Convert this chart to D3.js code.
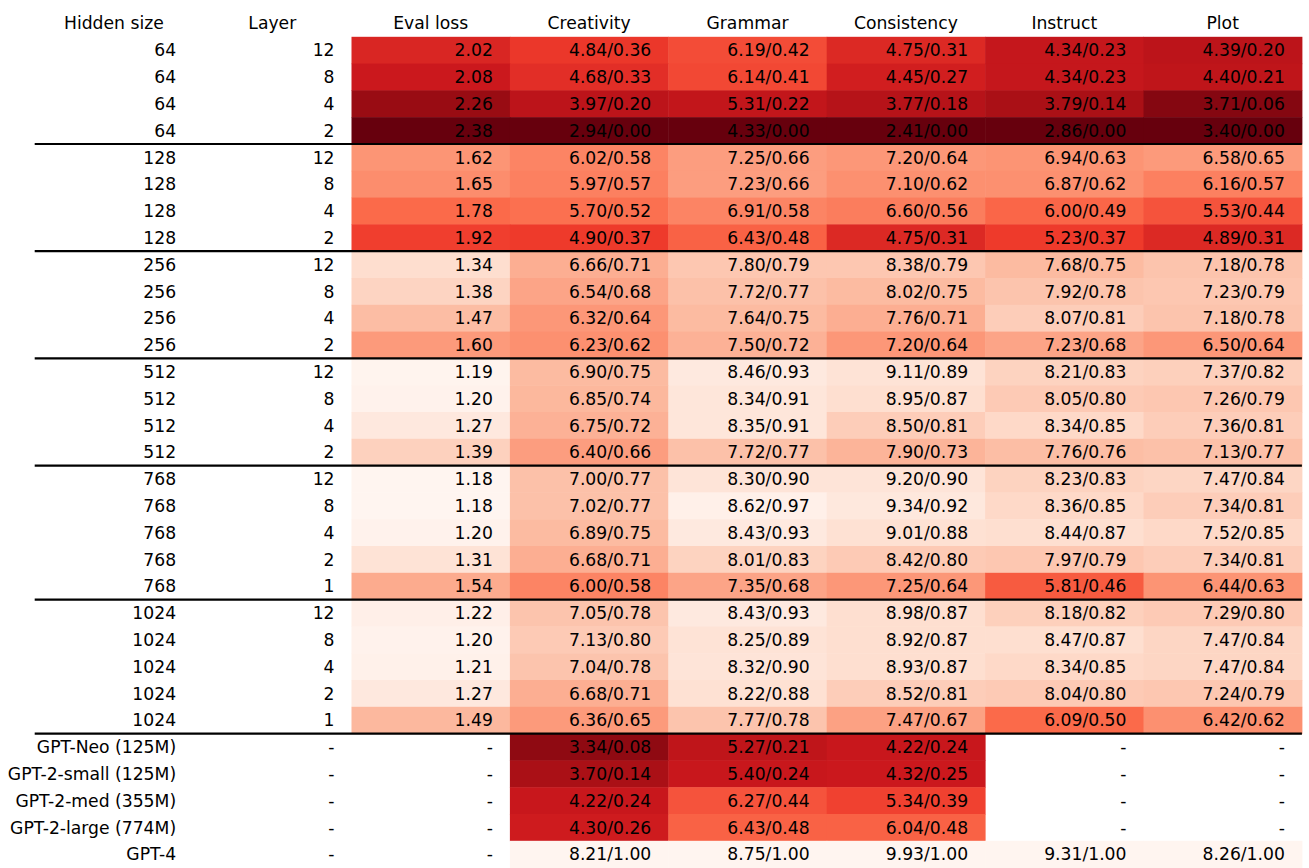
<!DOCTYPE html>
<html>
<head>
<meta charset="utf-8">
<script src="https://cdn.jsdelivr.net/npm/d3@7"></script>
<style>
  body { margin: 0; background: #fff; }
  text { font-family: "DejaVu Sans", sans-serif; font-size: 17.2px; fill: #000; }
</style>
</head>
<body>
<div id="chart"></div>
<script>
// Table data, one array per column
var columns = ["Hidden size", "Layer", "Eval loss", "Creativity", "Grammar", "Consistency", "Instruct", "Plot"];

var hiddenSize = ["64", "64", "64", "64", "128", "128", "128", "128", "256", "256", "256", "256",
    "512", "512", "512", "512", "768", "768", "768", "768", "768", "1024", "1024", "1024", "1024", "1024",
    "GPT-Neo (125M)", "GPT-2-small (125M)", "GPT-2-med (355M)", "GPT-2-large (774M)", "GPT-4"];
var layer = ["12", "8", "4", "2", "12", "8", "4", "2", "12", "8", "4", "2", "12", "8", "4", "2",
    "12", "8", "4", "2", "1", "12", "8", "4", "2", "1", "-", "-", "-", "-", "-"];

var evalLoss = [2.02, 2.08, 2.26, 2.38, 1.62, 1.65, 1.78, 1.92, 1.34, 1.38, 1.47, 1.60,
    1.19, 1.20, 1.27, 1.39, 1.18, 1.18, 1.20, 1.31, 1.54, 1.22, 1.20, 1.21, 1.27, 1.49,
    null, null, null, null, null];

var creativity = [4.84, 4.68, 3.97, 2.94, 6.02, 5.97, 5.70, 4.90, 6.66, 6.54, 6.32, 6.23,
    6.90, 6.85, 6.75, 6.40, 7.00, 7.02, 6.89, 6.68, 6.00, 7.05, 7.13, 7.04, 6.68, 6.36,
    3.34, 3.70, 4.22, 4.30, 8.21];
var creativityNorm = [0.36, 0.33, 0.20, 0.00, 0.58, 0.57, 0.52, 0.37, 0.71, 0.68, 0.64, 0.62,
    0.75, 0.74, 0.72, 0.66, 0.77, 0.77, 0.75, 0.71, 0.58, 0.78, 0.80, 0.78, 0.71, 0.65,
    0.08, 0.14, 0.24, 0.26, 1.00];

var grammar = [6.19, 6.14, 5.31, 4.33, 7.25, 7.23, 6.91, 6.43, 7.80, 7.72, 7.64, 7.50,
    8.46, 8.34, 8.35, 7.72, 8.30, 8.62, 8.43, 8.01, 7.35, 8.43, 8.25, 8.32, 8.22, 7.77,
    5.27, 5.40, 6.27, 6.43, 8.75];
var grammarNorm = [0.42, 0.41, 0.22, 0.00, 0.66, 0.66, 0.58, 0.48, 0.79, 0.77, 0.75, 0.72,
    0.93, 0.91, 0.91, 0.77, 0.90, 0.97, 0.93, 0.83, 0.68, 0.93, 0.89, 0.90, 0.88, 0.78,
    0.21, 0.24, 0.44, 0.48, 1.00];

var consistency = [4.75, 4.45, 3.77, 2.41, 7.20, 7.10, 6.60, 4.75, 8.38, 8.02, 7.76, 7.20,
    9.11, 8.95, 8.50, 7.90, 9.20, 9.34, 9.01, 8.42, 7.25, 8.98, 8.92, 8.93, 8.52, 7.47,
    4.22, 4.32, 5.34, 6.04, 9.93];
var consistencyNorm = [0.31, 0.27, 0.18, 0.00, 0.64, 0.62, 0.56, 0.31, 0.79, 0.75, 0.71, 0.64,
    0.89, 0.87, 0.81, 0.73, 0.90, 0.92, 0.88, 0.80, 0.64, 0.87, 0.87, 0.87, 0.81, 0.67,
    0.24, 0.25, 0.39, 0.48, 1.00];

var instruct = [4.34, 4.34, 3.79, 2.86, 6.94, 6.87, 6.00, 5.23, 7.68, 7.92, 8.07, 7.23,
    8.21, 8.05, 8.34, 7.76, 8.23, 8.36, 8.44, 7.97, 5.81, 8.18, 8.47, 8.34, 8.04, 6.09,
    null, null, null, null, 9.31];
var instructNorm = [0.23, 0.23, 0.14, 0.00, 0.63, 0.62, 0.49, 0.37, 0.75, 0.78, 0.81, 0.68,
    0.83, 0.80, 0.85, 0.76, 0.83, 0.85, 0.87, 0.79, 0.46, 0.82, 0.87, 0.85, 0.80, 0.50,
    null, null, null, null, 1.00];

var plot = [4.39, 4.40, 3.71, 3.40, 6.58, 6.16, 5.53, 4.89, 7.18, 7.23, 7.18, 6.50,
    7.37, 7.26, 7.36, 7.13, 7.47, 7.34, 7.52, 7.34, 6.44, 7.29, 7.47, 7.47, 7.24, 6.42,
    null, null, null, null, 8.26];
var plotNorm = [0.20, 0.21, 0.06, 0.00, 0.65, 0.57, 0.44, 0.31, 0.78, 0.79, 0.78, 0.64,
    0.82, 0.79, 0.81, 0.77, 0.84, 0.81, 0.85, 0.81, 0.63, 0.80, 0.84, 0.84, 0.79, 0.62,
    null, null, null, null, 1.00];

// rows after which a group separator is drawn
var groupEnds = [3, 7, 11, 15, 20, 25];

var w = 1309;
var h = 868;

var svg = d3.select("#chart")
    .append("svg")
    .attr("width", w)
    .attr("height", h);

var x = d3.scaleBand()
    .domain(columns)
    .range([34.7, 1301.9]);

var y = d3.scaleBand()
    .domain(d3.range(hiddenSize.length))
    .range([36.8, 36.8 + 26.8 * hiddenSize.length]);

// matplotlib-style "Reds" (linear between the 9 brewer stops)
var redsStops = ["#fff5f0", "#fee0d2", "#fcbba1", "#fc9272", "#fb6a4a", "#ef3b2c", "#cb181d", "#a50f15", "#67000d"];
var reds = d3.scaleLinear()
    .domain(d3.range(9).map(function (i) { return i / 8; }))
    .range(redsStops)
    .interpolate(d3.interpolateRgb)
    .clamp(true);

var lossExtent = d3.extent(evalLoss.filter(function (v) { return v != null; }));
var lossScale = d3.scaleLinear().domain(lossExtent).range([0, 1]);

// Build cell list
var scoreCols = [
    { name: "Creativity", vals: creativity, norm: creativityNorm },
    { name: "Grammar", vals: grammar, norm: grammarNorm },
    { name: "Consistency", vals: consistency, norm: consistencyNorm },
    { name: "Instruct", vals: instruct, norm: instructNorm },
    { name: "Plot", vals: plot, norm: plotNorm }
];

var cells = [];
hiddenSize.forEach(function (hs, i) {
    cells.push({ col: "Hidden size", row: i, label: hs, fill: null });
    cells.push({ col: "Layer", row: i, label: layer[i], fill: null });
    var l = evalLoss[i];
    cells.push({
        col: "Eval loss", row: i,
        label: l == null ? "-" : l.toFixed(2),
        fill: l == null ? null : reds(lossScale(l))
    });
    scoreCols.forEach(function (c) {
        var v = c.vals[i];
        cells.push({
            col: c.name, row: i,
            label: v == null ? "-" : v.toFixed(2) + "/" + c.norm[i].toFixed(2),
            fill: v == null ? null : reds(1 - c.norm[i])
        });
    });
});

// Background cells
svg.append("g")
    .selectAll("rect")
    .data(cells.filter(function (d) { return d.fill; }))
    .enter()
    .append("rect")
    .attr("x", function (d) { return x(d.col); })
    .attr("y", function (d) { return y(d.row); })
    .attr("width", x.bandwidth() + 0.5)
    .attr("height", y.bandwidth() + 0.5)
    .style("fill", function (d) { return d.fill; });

// Header
svg.append("g")
    .selectAll("text")
    .data(columns)
    .enter()
    .append("text")
    .attr("x", function (d) { return x(d) + x.bandwidth() / 2; })
    .attr("y", 29.3)
    .attr("text-anchor", "middle")
    .text(function (d) { return d; });

// Cell labels, right aligned
var pad = 17;
svg.append("g")
    .selectAll("text")
    .data(cells)
    .enter()
    .append("text")
    .attr("x", function (d) { return x(d.col) + x.bandwidth() - pad; })
    .attr("y", function (d) { return y(d.row) + y.bandwidth() / 2 + 6.2; })
    .attr("text-anchor", "end")
    .text(function (d) { return d.label; });

// Group separators
svg.append("g")
    .selectAll("line")
    .data(groupEnds)
    .enter()
    .append("line")
    .attr("x1", x.range()[0])
    .attr("x2", x.range()[1])
    .attr("y1", function (d) { return y(d) + y.bandwidth(); })
    .attr("y2", function (d) { return y(d) + y.bandwidth(); })
    .style("stroke", "#000")
    .style("stroke-width", 2.2);
</script>
</body>
</html>
